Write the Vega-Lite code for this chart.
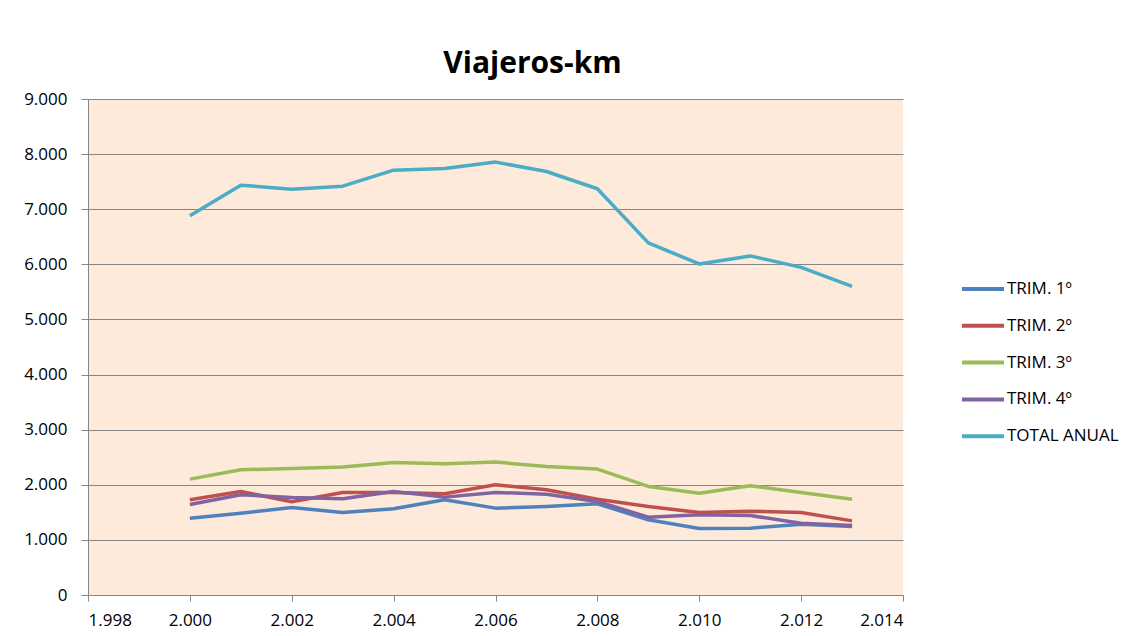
{
  "$schema": "https://vega.github.io/schema/vega-lite/v6.json",
  "autosize": "none",
  "width": 815,
  "height": 496,
  "padding": {"left": 88, "top": 99, "right": 226, "bottom": 41},
  "background": "#ffffff",
  "config": {
    "locale": {"number": {"decimal": ",", "thousands": ".", "grouping": [3], "currency": ["", " €"]}},
    "font": "Open Sans",
    "view": {"fill": "#FDEADA", "stroke": null}
  },
  "title": {
    "text": "Viajeros-km",
    "fontSize": 30,
    "fontWeight": "bold",
    "font": "Open Sans",
    "color": "#000000",
    "anchor": "middle",
    "dx": 37,
    "offset": 11
  },
  "data": {
    "values": [
      {"year": 2000, "serie": "TRIM. 1º", "value": 1394},
      {"year": 2001, "serie": "TRIM. 1º", "value": 1485},
      {"year": 2002, "serie": "TRIM. 1º", "value": 1588},
      {"year": 2003, "serie": "TRIM. 1º", "value": 1497},
      {"year": 2004, "serie": "TRIM. 1º", "value": 1564},
      {"year": 2005, "serie": "TRIM. 1º", "value": 1727},
      {"year": 2006, "serie": "TRIM. 1º", "value": 1576},
      {"year": 2007, "serie": "TRIM. 1º", "value": 1606},
      {"year": 2008, "serie": "TRIM. 1º", "value": 1655},
      {"year": 2009, "serie": "TRIM. 1º", "value": 1364},
      {"year": 2010, "serie": "TRIM. 1º", "value": 1206},
      {"year": 2011, "serie": "TRIM. 1º", "value": 1212},
      {"year": 2012, "serie": "TRIM. 1º", "value": 1285},
      {"year": 2013, "serie": "TRIM. 1º", "value": 1242},
      {"year": 2000, "serie": "TRIM. 2º", "value": 1727},
      {"year": 2001, "serie": "TRIM. 2º", "value": 1879},
      {"year": 2002, "serie": "TRIM. 2º", "value": 1691},
      {"year": 2003, "serie": "TRIM. 2º", "value": 1861},
      {"year": 2004, "serie": "TRIM. 2º", "value": 1861},
      {"year": 2005, "serie": "TRIM. 2º", "value": 1836},
      {"year": 2006, "serie": "TRIM. 2º", "value": 2000},
      {"year": 2007, "serie": "TRIM. 2º", "value": 1909},
      {"year": 2008, "serie": "TRIM. 2º", "value": 1739},
      {"year": 2009, "serie": "TRIM. 2º", "value": 1606},
      {"year": 2010, "serie": "TRIM. 2º", "value": 1497},
      {"year": 2011, "serie": "TRIM. 2º", "value": 1521},
      {"year": 2012, "serie": "TRIM. 2º", "value": 1497},
      {"year": 2013, "serie": "TRIM. 2º", "value": 1345},
      {"year": 2000, "serie": "TRIM. 3º", "value": 2103},
      {"year": 2001, "serie": "TRIM. 3º", "value": 2273},
      {"year": 2002, "serie": "TRIM. 3º", "value": 2297},
      {"year": 2003, "serie": "TRIM. 3º", "value": 2321},
      {"year": 2004, "serie": "TRIM. 3º", "value": 2406},
      {"year": 2005, "serie": "TRIM. 3º", "value": 2382},
      {"year": 2006, "serie": "TRIM. 3º", "value": 2412},
      {"year": 2007, "serie": "TRIM. 3º", "value": 2333},
      {"year": 2008, "serie": "TRIM. 3º", "value": 2285},
      {"year": 2009, "serie": "TRIM. 3º", "value": 1970},
      {"year": 2010, "serie": "TRIM. 3º", "value": 1848},
      {"year": 2011, "serie": "TRIM. 3º", "value": 1982},
      {"year": 2012, "serie": "TRIM. 3º", "value": 1861},
      {"year": 2013, "serie": "TRIM. 3º", "value": 1739},
      {"year": 2000, "serie": "TRIM. 4º", "value": 1642},
      {"year": 2001, "serie": "TRIM. 4º", "value": 1818},
      {"year": 2002, "serie": "TRIM. 4º", "value": 1770},
      {"year": 2003, "serie": "TRIM. 4º", "value": 1745},
      {"year": 2004, "serie": "TRIM. 4º", "value": 1879},
      {"year": 2005, "serie": "TRIM. 4º", "value": 1776},
      {"year": 2006, "serie": "TRIM. 4º", "value": 1861},
      {"year": 2007, "serie": "TRIM. 4º", "value": 1830},
      {"year": 2008, "serie": "TRIM. 4º", "value": 1697},
      {"year": 2009, "serie": "TRIM. 4º", "value": 1412},
      {"year": 2010, "serie": "TRIM. 4º", "value": 1455},
      {"year": 2011, "serie": "TRIM. 4º", "value": 1442},
      {"year": 2012, "serie": "TRIM. 4º", "value": 1303},
      {"year": 2013, "serie": "TRIM. 4º", "value": 1261},
      {"year": 2000, "serie": "TOTAL ANUAL", "value": 6880},
      {"year": 2001, "serie": "TOTAL ANUAL", "value": 7437},
      {"year": 2002, "serie": "TOTAL ANUAL", "value": 7364},
      {"year": 2003, "serie": "TOTAL ANUAL", "value": 7418},
      {"year": 2004, "serie": "TOTAL ANUAL", "value": 7709},
      {"year": 2005, "serie": "TOTAL ANUAL", "value": 7740},
      {"year": 2006, "serie": "TOTAL ANUAL", "value": 7855},
      {"year": 2007, "serie": "TOTAL ANUAL", "value": 7685},
      {"year": 2008, "serie": "TOTAL ANUAL", "value": 7371},
      {"year": 2009, "serie": "TOTAL ANUAL", "value": 6389},
      {"year": 2010, "serie": "TOTAL ANUAL", "value": 6007},
      {"year": 2011, "serie": "TOTAL ANUAL", "value": 6153},
      {"year": 2012, "serie": "TOTAL ANUAL", "value": 5945},
      {"year": 2013, "serie": "TOTAL ANUAL", "value": 5600}
    ]
  },
  "mark": {"type": "line", "strokeWidth": 3.5, "strokeJoin": "round", "strokeCap": "butt"},
  "encoding": {
    "x": {
      "field": "year",
      "type": "quantitative",
      "scale": {"domain": [1998, 2014], "nice": false, "zero": false},
      "axis": {
        "title": null,
        "values": [1998, 2000, 2002, 2004, 2006, 2008, 2010, 2012, 2014],
        "format": ",d",
        "grid": false,
        "domainColor": "#868686",
        "domainWidth": 1,
        "tickColor": "#868686",
        "tickSize": 6,
        "labelFontSize": 17,
        "labelColor": "#000000",
        "labelPadding": 11,
        "labelFont": "Open Sans"
      }
    },
    "y": {
      "field": "value",
      "type": "quantitative",
      "scale": {"domain": [0, 9000], "nice": false},
      "axis": {
        "title": null,
        "values": [0, 1000, 2000, 3000, 4000, 5000, 6000, 7000, 8000, 9000],
        "format": ",d",
        "grid": true,
        "gridColor": "#868686",
        "gridWidth": 1,
        "gridOpacity": 1,
        "domainColor": "#868686",
        "domainWidth": 1,
        "tickColor": "#868686",
        "tickSize": 7,
        "labelFontSize": 17,
        "labelColor": "#000000",
        "labelPadding": 14,
        "labelFont": "Open Sans"
      }
    },
    "color": {
      "field": "serie",
      "type": "nominal",
      "scale": {
        "domain": ["TRIM. 1º", "TRIM. 2º", "TRIM. 3º", "TRIM. 4º", "TOTAL ANUAL"],
        "range": ["#4F81BD", "#C0504D", "#9BBB59", "#8064A2", "#4BACC6"]
      },
      "legend": {
        "title": null,
        "orient": "none",
        "legendX": 872,
        "legendY": 167,
        "symbolType": "stroke",
        "symbolSize": 1764,
        "symbolStrokeWidth": 4,
        "labelFontSize": 17,
        "labelFont": "Open Sans",
        "labelColor": "#000000",
        "labelOffset": 1,
        "rowPadding": 5.8
      }
    }
  }
}
